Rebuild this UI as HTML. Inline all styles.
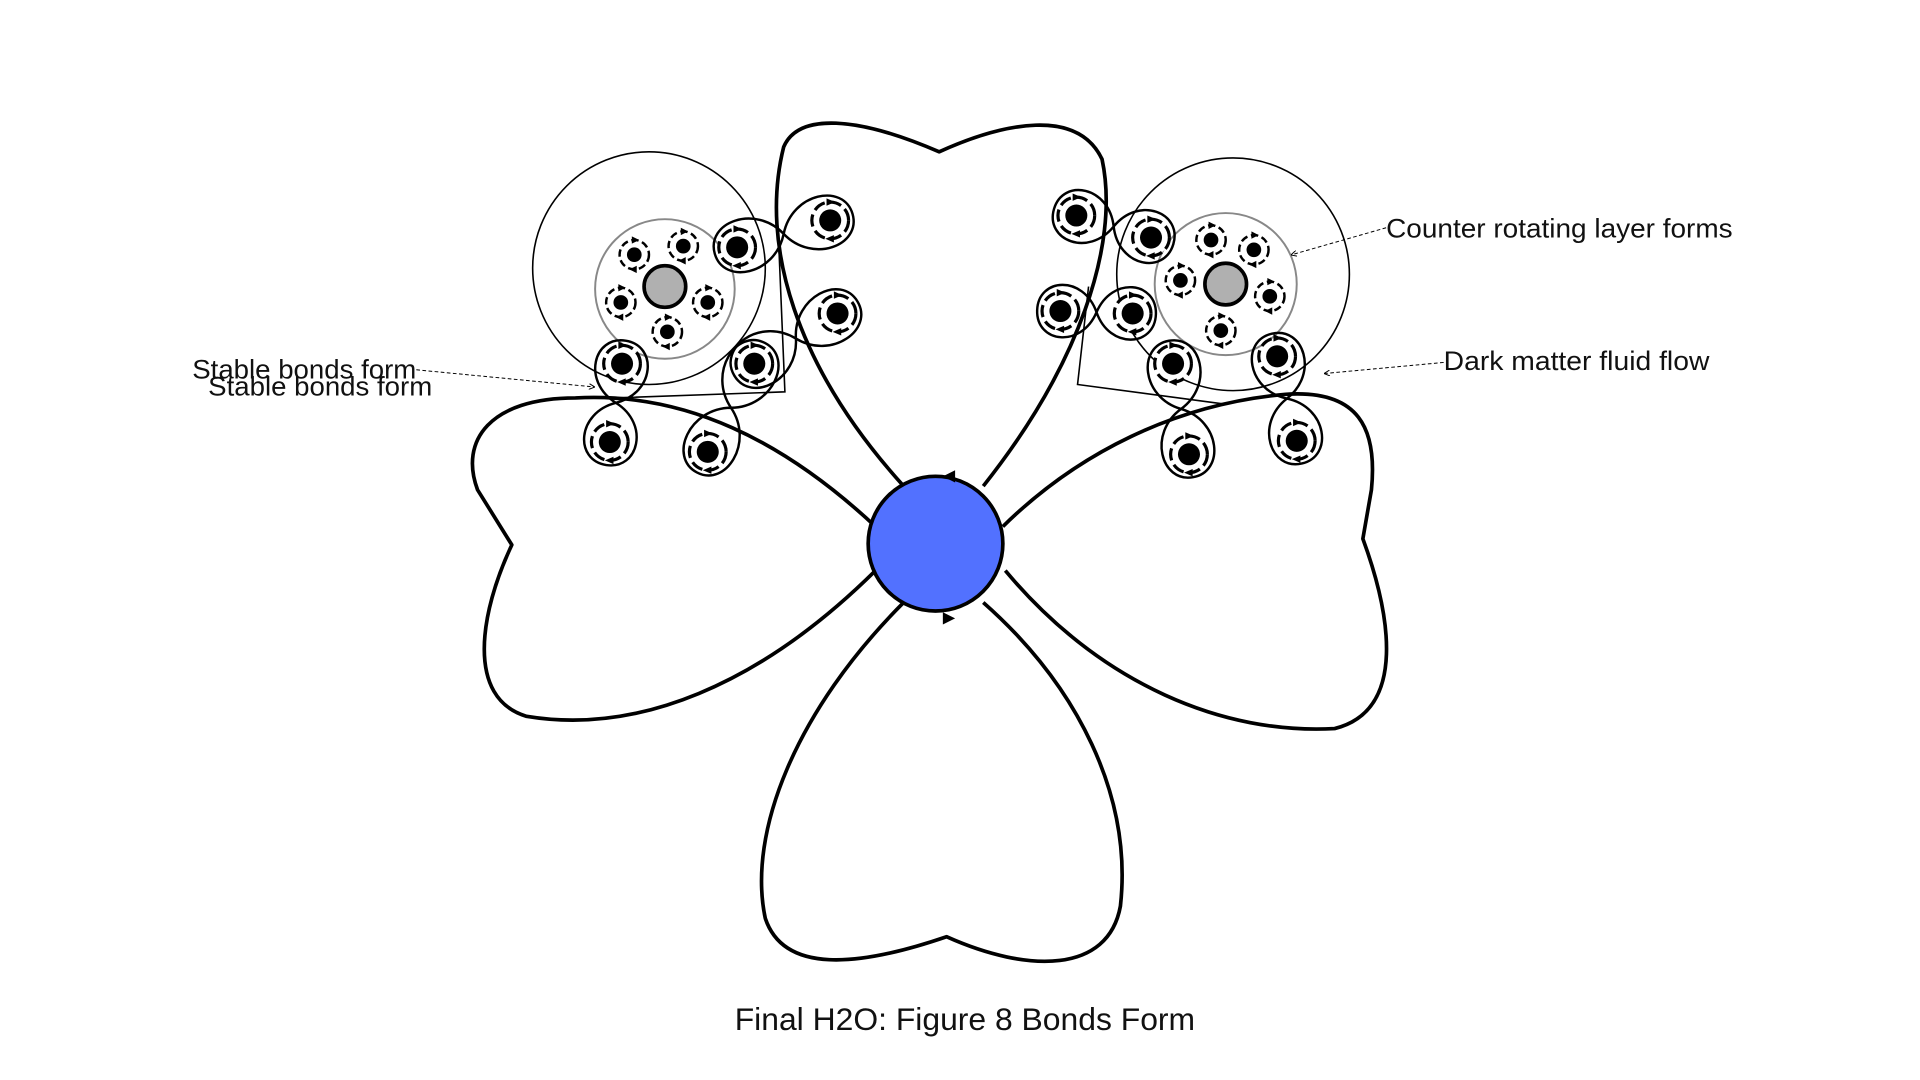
<!DOCTYPE html>
<html><head><meta charset="utf-8"><style>
html,body{margin:0;padding:0;background:#fff;width:1920px;height:1080px;overflow:hidden}
svg{display:block}
text{font-family:"Liberation Sans",sans-serif;fill:#111}
</style></head><body>
<svg id="s" width="1920" height="1080" viewBox="0 0 1568 882" preserveAspectRatio="none" xmlns="http://www.w3.org/2000/svg">
<defs>
<g id="el"><circle r="15" fill="#fff" stroke="#000" stroke-width="2.6" stroke-dasharray="10 4"/><circle r="9" fill="#000"/><path d="M-3,-18 L4,-15 L-3,-12Z M3,12 L-4,15 L3,18Z" fill="#000"/></g>
<g id="sm"><circle r="12" fill="#fff" stroke="#000" stroke-width="2" stroke-dasharray="6 3"/><circle r="6" fill="#000"/><path d="M-2,-15 L4,-12 L-2,-9Z M2,9 L-4,12 L2,15Z" fill="#000"/></g>
<marker id="ar" markerWidth="6" markerHeight="6" refX="5" refY="3" orient="auto"><path d="M0,0 L6,3 L0,6" fill="none" stroke="#000" stroke-width="1"/></marker>
</defs>
<g fill="none" stroke="#000" stroke-width="3" stroke-linejoin="round">
<path d="M738,397 C650,300 620,200 640,120 C652,92 700,95 767,124 C820,100 880,88 900,130 C915,200 880,300 803,397"/>
<path d="M738,492 C650,580 610,680 625,750 C640,795 700,790 773,765 C840,795 905,795 915,740 C925,650 880,560 803,492"/>
<path d="M715,430 C640,360 560,320 470,325 C400,325 375,360 390,400 L418,445 C392,500 380,570 430,585 C520,600 620,560 715,466"/>
<path d="M819,430 C880,370 960,330 1050,322 C1110,318 1125,350 1120,400 L1113,440 C1135,500 1150,580 1090,595 C1000,600 900,560 821,466"/>
</g>
<circle cx="764" cy="444" r="55" fill="#5271ff" stroke="#000" stroke-width="3"/>
<path d="M780,384 L770,389 L780,394Z M770,500 L780,505 L770,510Z" fill="#000"/>
<g fill="none" stroke="#000" stroke-width="1.3">
<circle cx="530" cy="219" r="95"/>
<path d="M500,325 L641,320 L636,200"/>
<circle cx="1007" cy="224" r="95"/>
<path d="M889,234 L880,314 L1000,330"/>
</g>
<circle cx="543" cy="236" r="57" fill="none" stroke="#888" stroke-width="1.6"/>
<circle cx="1001" cy="232" r="58" fill="none" stroke="#888" stroke-width="1.6"/>
<g id="loops" fill="none" stroke="#000" stroke-width="2"></g>
<circle cx="543" cy="234" r="17" fill="#b0b0b0" stroke="#000" stroke-width="3"/>
<circle cx="1001" cy="232" r="17" fill="#b0b0b0" stroke="#000" stroke-width="3"/>
<g id="dots"></g>
<g stroke="#000" stroke-width="0.8" stroke-dasharray="3 2" fill="none">
<path d="M340,302 L485,316" marker-end="url(#ar)"/>
<path d="M1132,186 L1055,208" marker-end="url(#ar)"/>
<path d="M1179,296 L1082,305" marker-end="url(#ar)"/>
</g>
<text x="157" y="309" font-size="22" textLength="183" lengthAdjust="spacingAndGlyphs">Stable bonds form</text>
<text x="170" y="323" font-size="22" textLength="183" lengthAdjust="spacingAndGlyphs">Stable bonds form</text>
<text x="1132" y="194" font-size="22" textLength="283" lengthAdjust="spacingAndGlyphs">Counter rotating layer forms</text>
<text x="1179" y="302" font-size="22" textLength="217" lengthAdjust="spacingAndGlyphs">Dark matter fluid flow</text>
<text x="600" y="841" font-size="26" textLength="376" lengthAdjust="spacingAndGlyphs">Final H2O: Figure 8 Bonds Form</text>
</svg>
<script>
var NS="http://www.w3.org/2000/svg";
var pairs=[[[602,202],[678,180]],[[616,297],[684,256]],[[508,297],[498,361]],[[616,297],[578,369]],
[[879,176],[940,194]],[[866,254],[925,256]],[[958,297],[971,371]],[[1043,291],[1059,360]]];
var lg=document.getElementById("loops"),dg=document.getElementById("dots");
function loop(M,P){var dx=P[0]-M[0],dy=P[1]-M[1],L=Math.hypot(dx,dy),ux=dx/L,uy=dy/L,nx=-uy,ny=ux,w=19;
var T=[P[0]+ux*w,P[1]+uy*w];
function pt(a,b){return (M[0]+ux*a+nx*b)+","+(M[1]+uy*a+ny*b)}
return "M"+M[0]+","+M[1]+" C"+pt(L*0.4,w*1.6)+" "+pt(L+w,w*1.4)+" "+T[0]+","+T[1]+" C"+pt(L+w,-w*1.4)+" "+pt(L*0.4,-w*1.6)+" "+M[0]+","+M[1];}
var seen={};
pairs.forEach(function(p){var M=[(p[0][0]+p[1][0])/2,(p[0][1]+p[1][1])/2];
[p[0],p[1]].forEach(function(P){var e=document.createElementNS(NS,"path");e.setAttribute("d",loop(M,P));lg.appendChild(e);
var k=P.join(",");if(!seen[k]){seen[k]=1;var u=document.createElementNS(NS,"use");u.setAttribute("href","#el");u.setAttribute("x",P[0]);u.setAttribute("y",P[1]);dg.appendChild(u);}});});
[[518,208],[558,201],[507,247],[578,247],[545,271],[989,196],[1024,204],[964,229],[1037,242],[997,270]].forEach(function(P){
var u=document.createElementNS(NS,"use");u.setAttribute("href","#sm");u.setAttribute("x",P[0]);u.setAttribute("y",P[1]);dg.appendChild(u);});
</script>
</body></html>
